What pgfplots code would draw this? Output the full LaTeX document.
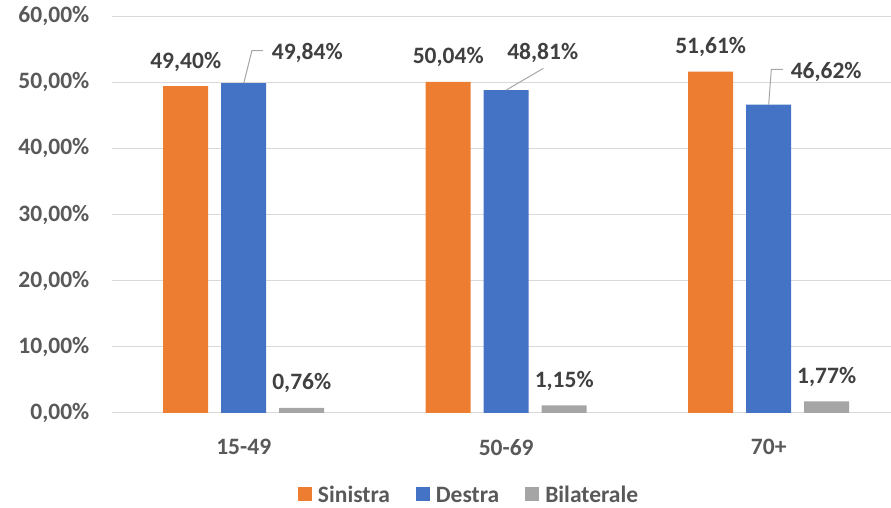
\documentclass[border=0pt]{standalone}
\usepackage{pgfplots}
\pgfplotsset{compat=1.18}
\usepackage{fontspec}
\setmainfont{Carlito}
\definecolor{cOr}{HTML}{ED7D31}
\definecolor{cBl}{HTML}{4472C4}
\definecolor{cGr}{HTML}{A5A5A5}
\definecolor{cGrid}{HTML}{D9D9D9}
\definecolor{cTick}{HTML}{595959}
\definecolor{cLab}{HTML}{404040}
\definecolor{cLead}{HTML}{A6A6A6}
\newcommand{\bigf}{\fontsize{23.5}{28}\selectfont\bfseries}
\tikzset{lbl/.style={font=\bigf, text=cLab, anchor=base, inner sep=0pt}}
\begin{document}
\begin{tikzpicture}
\useasboundingbox (0,0) rectangle (891pt,508pt);
\begin{axis}[
  at={(112.5pt,95pt)}, anchor=south west,
  scale only axis, width=778.5pt, height=397pt,
  xmin=-0.5, xmax=2.466, ymin=0, ymax=60,
  clip=false,
  axis line style={draw=none}, tick style={draw=none},
  ymajorgrids, major grid style={draw=cGrid, line width=1pt},
  ytick={0,10,...,60},
  yticklabels={{0,00\%},{10,00\%},{20,00\%},{30,00\%},{40,00\%},{50,00\%},{60,00\%}},
  yticklabel style={font=\bigf, text=cTick, anchor=east, inner sep=0pt, xshift=-23pt},
  xtick={0,1,2}, xticklabels={15-49,50-69,70+},
  xticklabel style={font=\bigf, text=cTick, anchor=north, inner sep=0pt, yshift=-22pt},
  ybar, bar width=45pt,
  legend style={at={(0.458,-0.2078)}, anchor=center, draw=none, fill=none,
    legend columns=-1, font=\bigf, text=cTick, inner sep=0pt,
    /tikz/every even column/.append style={column sep=24pt},
    /tikz/every odd column/.append style={column sep=4pt}},
  legend image code/.code={\fill (0pt,-6pt) rectangle (14pt,8pt);},
]
\addplot[fill=cOr, draw=none, bar shift=-58pt,
  nodes near coords={\pgfmathprintnumber[fixed,fixed zerofill,precision=2,use comma,assume math mode=true]{\pgfplotspointmeta}\%},
  every node near coord/.append style={font=\bigf, text=cLab, anchor=base, inner sep=0pt, yshift=18pt}]
  coordinates {(0,49.40) (1,50.04) (2,51.61)};
\addlegendentry{Sinistra}
\addplot[fill=cBl, draw=none, bar shift=0pt]
  coordinates {(0,49.84) (1,48.81) (2,46.62)};
\addlegendentry{Destra}
\addplot[fill=cGr, draw=none, bar shift=58pt,
  nodes near coords={\pgfmathprintnumber[fixed,fixed zerofill,precision=2,use comma,assume math mode=true]{\pgfplotspointmeta}\%},
  every node near coord/.append style={font=\bigf, text=cLab, anchor=base, inner sep=0pt, yshift=18pt}]
  coordinates {(0,0.76) (1,1.15) (2,1.77)};
\addlegendentry{Bilaterale}
\draw[cLead, line width=1pt] (axis cs:0,49.84) -- (axis cs:0.031,54.75) -- (axis cs:0.073,54.75);
\node[lbl] at (axis cs:0.242,53.45) {49,84\%};
\draw[cLead, line width=1pt] (axis cs:1,48.81) -- (axis cs:1.142,52.1);
\node[lbl] at (axis cs:1.139,53.5) {48,81\%};
\draw[cLead, line width=1pt] (axis cs:2,46.62) -- (axis cs:2.01,51.94) -- (axis cs:2.054,51.94);
\node[lbl] at (axis cs:2.219,50.58) {46,62\%};
\end{axis}
\end{tikzpicture}
\end{document}
